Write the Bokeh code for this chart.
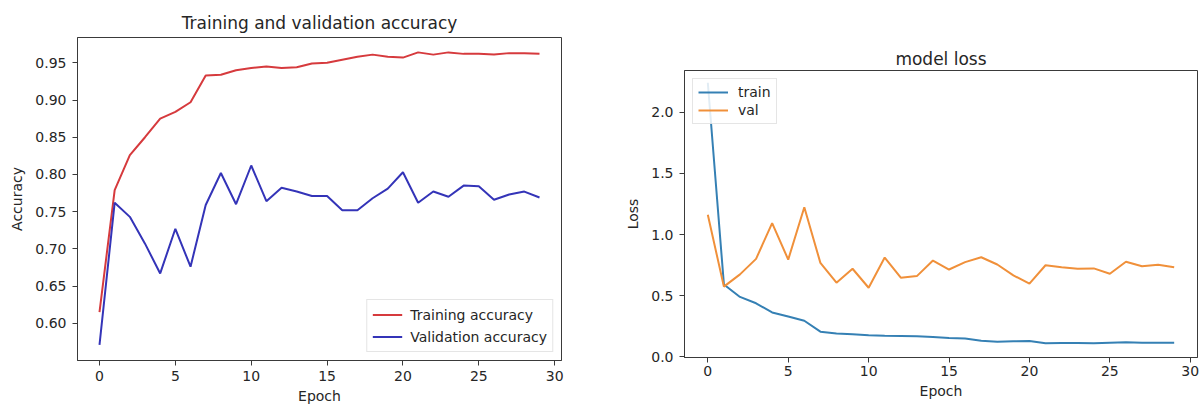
from bokeh.plotting import figure
from bokeh.layouts import row
from bokeh.models import Range1d, FixedTicker, NumeralTickFormatter
from bokeh.embed import file_html
from bokeh.resources import INLINE

# ---------------- data ----------------
epochs = list(range(30))
train_acc = [0.615, 0.779, 0.826, 0.850, 0.875, 0.884, 0.897, 0.933, 0.934, 0.940,
             0.943, 0.945, 0.943, 0.944, 0.949, 0.950, 0.954, 0.958, 0.961, 0.958,
             0.957, 0.964, 0.961, 0.964, 0.962, 0.962, 0.961, 0.963, 0.963, 0.962]
val_acc = [0.571, 0.762, 0.743, 0.707, 0.667, 0.727, 0.676, 0.759, 0.802, 0.760,
           0.812, 0.764, 0.782, 0.777, 0.771, 0.771, 0.752, 0.752, 0.768, 0.781,
           0.803, 0.762, 0.777, 0.770, 0.785, 0.784, 0.766, 0.773, 0.777, 0.769]
train_loss = [2.24, 0.592, 0.490, 0.438, 0.363, 0.330, 0.295, 0.206, 0.192, 0.184,
              0.176, 0.173, 0.171, 0.168, 0.162, 0.154, 0.151, 0.132, 0.124, 0.127,
              0.130, 0.111, 0.114, 0.114, 0.111, 0.116, 0.119, 0.116, 0.116, 0.116]
val_loss = [1.161, 0.574, 0.674, 0.801, 1.093, 0.795, 1.223, 0.768, 0.606, 0.720,
            0.565, 0.812, 0.647, 0.660, 0.787, 0.714, 0.774, 0.814, 0.755, 0.666,
            0.598, 0.749, 0.733, 0.720, 0.723, 0.679, 0.777, 0.741, 0.752, 0.733]

epoch_ticks = [0, 5, 10, 15, 20, 25, 30]
acc_ticks = [0.60, 0.65, 0.70, 0.75, 0.80, 0.85, 0.90, 0.95]
loss_ticks = [0.0, 0.5, 1.0, 1.5, 2.0]

FONT = "DejaVu Sans"
TXT = "#262626"
SPINE = "#3a3a3a"


def style(p, title_standoff, x_standoff):
    p.title.text_font = FONT
    p.title.text_font_size = "17px"
    p.title.text_font_style = "normal"
    p.title.text_color = TXT
    p.title.align = "center"
    p.title.standoff = title_standoff
    p.outline_line_color = SPINE
    p.outline_line_width = 1
    p.xgrid.visible = False
    p.ygrid.visible = False
    for ax in (p.xaxis[0], p.yaxis[0]):
        ax.axis_line_color = SPINE
        ax.major_tick_line_color = SPINE
        ax.major_tick_out = 5
        ax.major_tick_in = 0
        ax.minor_tick_line_color = None
        ax.major_label_text_font = FONT
        ax.major_label_text_font_size = "14px"
        ax.major_label_text_color = TXT
        ax.axis_label_text_font = FONT
        ax.axis_label_text_font_size = "14px"
        ax.axis_label_text_font_style = "normal"
        ax.axis_label_text_color = TXT
    p.xaxis[0].major_label_standoff = x_standoff
    p.xaxis[0].axis_label_standoff = 4
    p.yaxis[0].major_label_standoff = 6
    p.yaxis[0].axis_label_standoff = 7
    p.xaxis[0].ticker = FixedTicker(ticks=epoch_ticks)
    p.xaxis[0].axis_label = "Epoch"


def style_legend(p, loc, padding, spacing, row_h, standoff):
    lg = p.legend[0]
    lg.location = loc
    lg.label_text_font = FONT
    lg.label_text_font_size = "14px"
    lg.label_text_color = TXT
    lg.border_line_color = "#cccccc"
    lg.border_line_width = 1
    lg.background_fill_color = "white"
    lg.background_fill_alpha = 0.85
    lg.padding = padding
    lg.spacing = spacing
    lg.margin = 8
    lg.glyph_width = 30
    lg.glyph_height = row_h
    lg.label_height = row_h
    lg.label_standoff = standoff


# ---------------- accuracy plot ----------------
p1 = figure(width=600, height=408, output_backend="svg", toolbar_location=None,
            title="Training and validation accuracy", frame_align=False,
            x_range=Range1d(-1.45, 30.45), y_range=Range1d(0.55, 0.984),
            min_border_left=77, min_border_right=39, min_border_top=37,
            min_border_bottom=48)
p1.line(epochs, train_acc, line_color="#d63a3d", line_width=2,
        legend_label="Training accuracy")
p1.line(epochs, val_acc, line_color="#3434b8", line_width=2,
        legend_label="Validation accuracy")
style(p1, 10, 5)
p1.yaxis[0].ticker = FixedTicker(ticks=acc_ticks)
p1.yaxis[0].formatter = NumeralTickFormatter(format="0.00")
p1.yaxis[0].axis_label = "Accuracy"
style_legend(p1, "bottom_right", 5, 3, 19, 8)

# ---------------- loss plot ----------------
p2 = figure(width=599, height=408, output_backend="svg", toolbar_location=None,
            title="model loss", frame_align=False,
            x_range=Range1d(-1.45, 30.45), y_range=Range1d(-0.005, 2.34),
            min_border_left=84, min_border_right=2, min_border_top=70,
            min_border_bottom=51)
p2.line(epochs, train_loss, line_color="#3580b4", line_width=2, legend_label="train")
p2.line(epochs, val_loss, line_color="#f0903a", line_width=2, legend_label="val")
style(p2, 4, 3)
p2.yaxis[0].ticker = FixedTicker(ticks=loss_ticks)
p2.yaxis[0].formatter = NumeralTickFormatter(format="0.0")
p2.yaxis[0].axis_label = "Loss"
style_legend(p2, "top_left", 5, 2, 16, 10)

layout = row(p1, p2)
open("out.html", "w").write(file_html(layout, INLINE))
